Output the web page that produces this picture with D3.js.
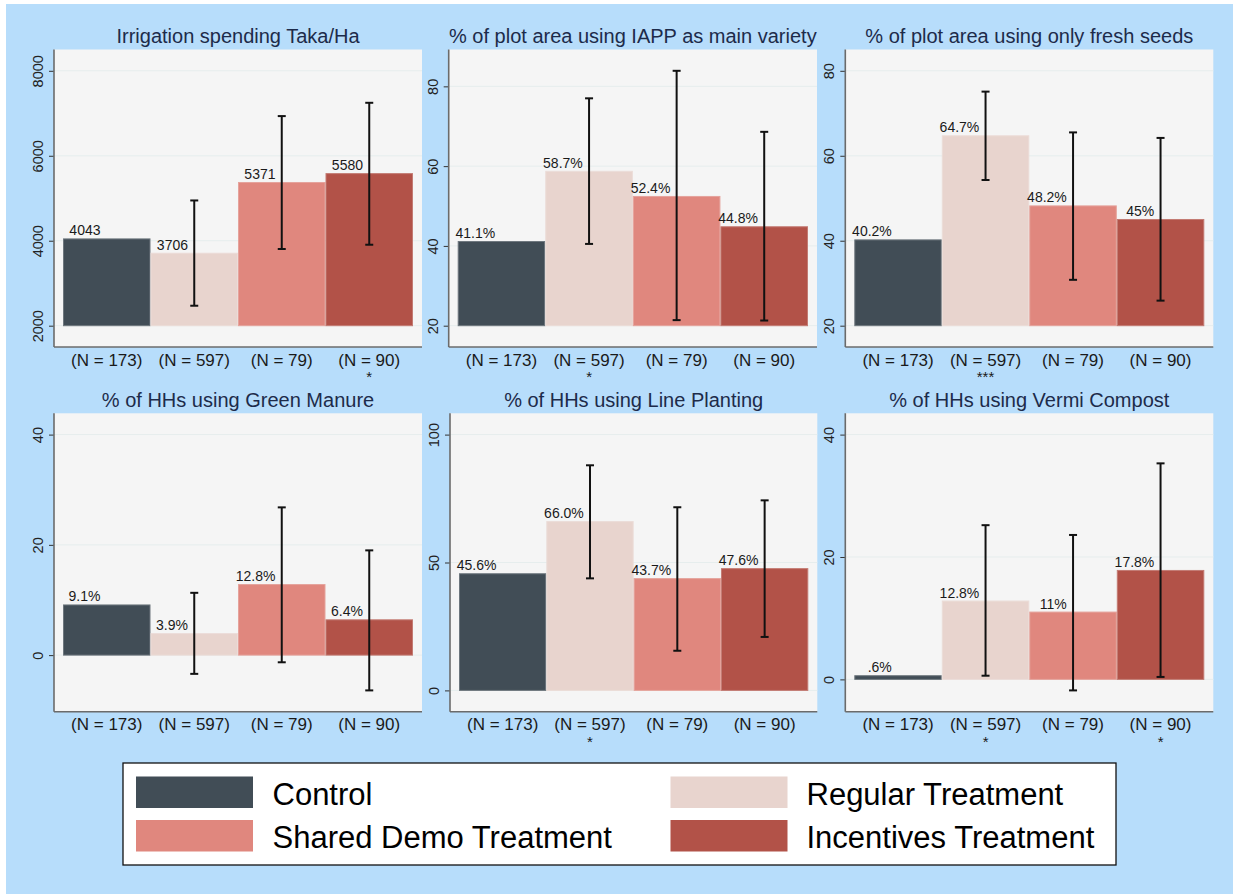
<!DOCTYPE html>
<html>
<head>
<meta charset="utf-8">
<script src="https://cdn.jsdelivr.net/npm/d3@7"></script>
<style>
  html, body { margin: 0; padding: 0; background: #ffffff; }
  svg { display: block; font-family: "Liberation Sans", Arial, sans-serif; }
</style>
</head>
<body>
<svg id="chart" width="1233" height="894"></svg>
<script>
// Treatment groups and sample sizes (shared by all six panels)
const groups = ["Control", "Regular Treatment", "Shared Demo Treatment", "Incentives Treatment"];
const sampleSizes = [173, 597, 79, 90];
const groupColors = ["#414d56", "#e8d4ce", "#e0877e", "#b25248"];

// Panel titles, in reading order
const panelTitles = [
  "Irrigation spending Taka/Ha",
  "% of plot area using IAPP as main variety",
  "% of plot area using only fresh seeds",
  "% of HHs using Green Manure",
  "% of HHs using Line Planting",
  "% of HHs using Vermi Compost"
];

// Group means per panel
const means = [
  [4043, 3706, 5371, 5580],
  [41.1, 58.7, 52.4, 44.8],
  [40.2, 64.7, 48.2, 45.0],
  [9.1, 3.9, 12.8, 6.4],
  [45.6, 66.0, 43.7, 47.6],
  [0.6, 12.8, 11.0, 17.8]
];

// Printed value labels
const valueLabels = [
  ["4043", "3706", "5371", "5580"],
  ["41.1%", "58.7%", "52.4%", "44.8%"],
  ["40.2%", "64.7%", "48.2%", "45%"],
  ["9.1%", "3.9%", "12.8%", "6.4%"],
  ["45.6%", "66.0%", "43.7%", "47.6%"],
  [".6%", "12.8%", "11%", "17.8%"]
];

// Confidence interval bounds (no interval for the control group)
const ciLow = [
  [null, 2470, 3805, 3906],
  [null, 40.5, 21.4, 21.3],
  [null, 54.3, 30.8, 25.9],
  [null, -3.4, -1.3, -6.4],
  [null, 43.8, 15.5, 20.9],
  [null, 0.6, -1.8, 0.4]
];
const ciHigh = [
  [null, 4948, 6934, 7247],
  [null, 77.0, 83.9, 68.6],
  [null, 75.1, 65.5, 64.2],
  [null, 11.3, 26.8, 19.0],
  [null, 88.0, 71.6, 74.3],
  [null, 25.2, 23.6, 35.3]
];

// Y axis tick values per panel
const yTicks = [
  [2000, 4000, 6000, 8000],
  [20, 40, 60, 80],
  [20, 40, 60, 80],
  [0, 20, 40],
  [0, 50, 100],
  [0, 20, 40]
];

// Significance stars printed under the sample-size labels
const stars = [
  ["", "", "", "*"],
  ["", "*", "", ""],
  ["", "***", "", ""],
  ["", "", "", ""],
  ["", "*", "", ""],
  ["", "*", "", "*"]
];

// ---- layout ----
const svg = d3.select("#chart");
svg.append("rect").attr("x", 6).attr("y", 4).attr("width", 1227).attr("height", 890).attr("fill", "#b7ddfb");

const rows = [{ top: 49.5, bottom: 347 }, { top: 413.3, bottom: 711.7 }];
const cols = [
  [{ x0: 54, x1: 422 }, { x0: 448.7, x1: 817 }, { x0: 845.3, x1: 1213.3 }],
  [{ x0: 54, x1: 422 }, { x0: 450, x1: 817.3 }, { x0: 845.3, x1: 1213.3 }]
];
const innerPad = 21.3;   // gap between data range and plot edges
const barInset = 9;      // gap between outer bars and plot edges

panelTitles.forEach((title, p) => {
  const r = Math.floor(p / 3), c = p % 3;
  const { top, bottom } = rows[r];
  const { x0, x1 } = cols[r][c];
  const g = svg.append("g");

  const ticks = yTicks[p];
  const lows = ciLow[p].filter(v => v !== null);
  const highs = ciHigh[p].filter(v => v !== null);
  const lo = Math.min(ticks[0], d3.min(lows), d3.min(means[p]));
  const hi = Math.max(ticks[ticks.length - 1], d3.max(highs), d3.max(means[p]));
  const y = d3.scaleLinear().domain([lo, hi]).range([bottom - innerPad, top + innerPad]);
  const x = d3.scaleBand().domain(groups).range([x0 + barInset, x1 - barInset]).padding(0);
  const base = ticks[0];

  // plot region
  g.append("rect").attr("x", x0).attr("y", top).attr("width", x1 - x0).attr("height", bottom - top).attr("fill", "#f5f5f5");

  // gridlines
  g.selectAll(".grid").data(ticks).join("line")
    .attr("x1", x0).attr("x2", x1)
    .attr("y1", d => y(d)).attr("y2", d => y(d))
    .attr("stroke", "#e6eded").attr("stroke-width", 1);

  // title
  g.append("text").attr("x", (x0 + x1) / 2).attr("y", top - 6.5)
    .attr("text-anchor", "middle").attr("font-size", 20).attr("fill", "#1d2b4a").text(title);

  // bars
  g.selectAll(".bar").data(groups).join("rect")
    .attr("x", d => x(d) + 0.5)
    .attr("width", x.bandwidth() - 1)
    .attr("y", (d, i) => Math.min(y(means[p][i]), y(base)))
    .attr("height", (d, i) => Math.abs(y(base) - y(means[p][i])))
    .attr("fill", (d, i) => groupColors[i])
    .attr("stroke", (d, i) => d3.interpolateRgb(groupColors[i], "#f5f5f5")(0.25))
    .attr("stroke-width", 1);

  // value labels, right-aligned near the left edge of each bar
  g.selectAll(".val").data(groups).join("text")
    .attr("x", d => x(d) + 37.5)
    .attr("y", (d, i) => y(means[p][i]) - 3.5)
    .attr("text-anchor", "end")
    .attr("font-size", 14).attr("fill", "#1a1a1a")
    .text((d, i) => valueLabels[p][i]);

  // confidence intervals
  groups.forEach((d, i) => {
    if (ciLow[p][i] === null) return;
    const cx = x(d) + x.bandwidth() / 2;
    const yl = y(ciLow[p][i]), yh = y(ciHigh[p][i]);
    g.append("line").attr("x1", cx).attr("x2", cx).attr("y1", yl).attr("y2", yh)
      .attr("stroke", "#111").attr("stroke-width", 2);
    [yl, yh].forEach(yy => {
      g.append("line").attr("x1", cx - 4).attr("x2", cx + 4).attr("y1", yy).attr("y2", yy)
        .attr("stroke", "#111").attr("stroke-width", 2);
    });
  });

  // y axis with labels turned vertical
  const yAxis = d3.axisLeft(y).tickValues(ticks).tickSize(5).tickPadding(0).tickFormat(d3.format("d"));
  const ax = g.append("g").attr("transform", `translate(${x0},0)`).call(yAxis);
  ax.select(".domain").remove();
  ax.selectAll(".tick line").attr("stroke", "#333").attr("stroke-width", 1);
  ax.selectAll(".tick text")
    .attr("x", null).attr("y", null).attr("dy", 0)
    .attr("transform", "translate(-11,0) rotate(-90)")
    .attr("text-anchor", "middle")
    .attr("font-size", 14.5).attr("fill", "#222")
    .attr("font-family", "Liberation Sans, Arial, sans-serif");

  // axis lines
  g.append("line").attr("x1", x0).attr("x2", x0).attr("y1", top).attr("y2", bottom)
    .attr("stroke", "#6b6b6b").attr("stroke-width", 1.6);
  g.append("line").attr("x1", x0).attr("x2", x1).attr("y1", bottom).attr("y2", bottom)
    .attr("stroke", "#6b6b6b").attr("stroke-width", 1.6);

  // sample sizes and stars
  groups.forEach((d, i) => {
    const cx = x(d) + x.bandwidth() / 2;
    g.append("text").attr("x", cx).attr("y", bottom + 18.5)
      .attr("text-anchor", "middle").attr("font-size", 17).attr("fill", "#1a1a1a")
      .text(`(N = ${sampleSizes[i]})`);
    if (stars[p][i]) {
      g.append("text").attr("x", cx).attr("y", bottom + 35)
        .attr("text-anchor", "middle").attr("font-size", 15).attr("fill", "#1a1a1a")
        .text(stars[p][i]);
    }
  });
});

// ---- legend ----
const leg = svg.append("g");
leg.append("rect").attr("x", 123).attr("y", 763).attr("width", 993).attr("height", 102)
  .attr("fill", "#ffffff").attr("stroke", "#111").attr("stroke-width", 1.3);
const legPos = [
  { sx: 136, sy: 776.5, tx: 272.5, ty: 805 },
  { sx: 670.5, sy: 776.5, tx: 806.5, ty: 805 },
  { sx: 136, sy: 820, tx: 272.5, ty: 848 },
  { sx: 670.5, sy: 820, tx: 806.5, ty: 848 }
];
groups.forEach((name, i) => {
  const pos = legPos[i];
  leg.append("rect").attr("x", pos.sx).attr("y", pos.sy).attr("width", 117).attr("height", 31.5)
    .attr("fill", groupColors[i]);
  leg.append("text").attr("x", pos.tx).attr("y", pos.ty).attr("font-size", 31).attr("fill", "#000")
    .text(name);
});
</script>
</body>
</html>
